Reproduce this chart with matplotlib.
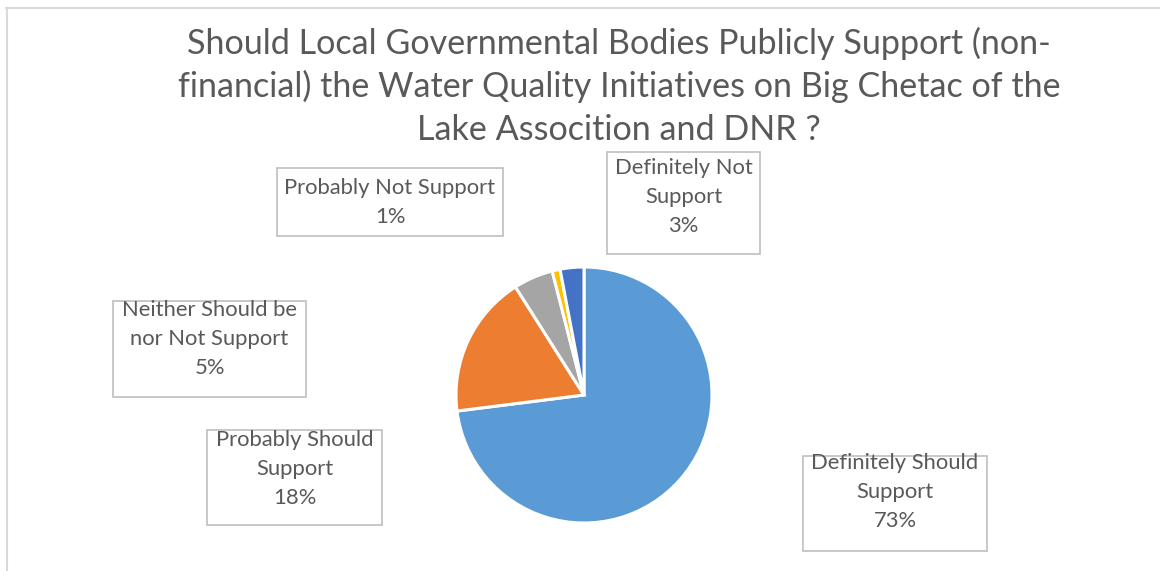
import matplotlib
matplotlib.use("Agg")
import matplotlib.pyplot as plt
from matplotlib.patches import Rectangle
from matplotlib.lines import Line2D

# Survey responses
categories = [
    "Definitely Should Support",
    "Probably Should Support",
    "Neither Should be nor Not Support",
    "Probably Not Support",
    "Definitely Not Support",
]
shares = [73, 18, 5, 1, 3]
label_lines = [
    ["Definitely Should", "Support"],
    ["Probably Should", "Support"],
    ["Neither Should be", "nor Not Support"],
    ["Probably Not Support"],
    ["Definitely Not", "Support"],
]
colors = ["#5B9BD5", "#ED7D31", "#A5A5A5", "#FFC000", "#4472C4"]

title_lines = [
    "Should Local Governmental Bodies Publicly Support (non-",
    "financial) the Water Quality Initiatives on Big Chetac of the",
    "Lake Assocition and DNR ?",
]

W, H = 1160, 571
fig = plt.figure(figsize=(W / 100, H / 100), dpi=100)
fig.patch.set_facecolor("white")
FONT = ["Lato", "DejaVu Sans"]
TXT = "#595959"


def fx(x):
    return x / W


def fy(y):
    return 1 - y / H


# chart frame (top and left edges)
fig.add_artist(Line2D([fx(6), fx(1160)], [fy(7.5), fy(7.5)], color="#D9D9D9", lw=1.5,
                      transform=fig.transFigure))
fig.add_artist(Line2D([fx(7), fx(7)], [fy(7.5), fy(571)], color="#D9D9D9", lw=1.5,
                      transform=fig.transFigure))

for i, line in enumerate(title_lines):
    fig.text(fx(619), fy(43 + i * 43.5), line, ha="center", va="center",
             fontsize=24.6, color=TXT, family=FONT)

# pie
cx, cy, r = 584, 395, 128
ax = fig.add_axes([fx(cx - r), fy(cy + r), 2 * r / W, 2 * r / H])
ax.pie(shares, colors=colors, startangle=90, counterclock=False,
       wedgeprops=dict(edgecolor="white", linewidth=2.2))
ax.set_xlim(-1, 1)
ax.set_ylim(-1, 1)
ax.set_aspect("auto")
ax.axis("off")

# data label boxes: (left, top, right, bottom, first text line y) in pixels
boxes = [
    (803, 456, 987, 551, 463),
    (207, 430, 382, 525, 440),
    (113, 301, 306, 397, 310),
    (277, 168, 503, 236, 188),
    (607, 152, 760, 254, 168),
]
for (l, t, rr, b, ty), lines, v in zip(boxes, label_lines, shares):
    fig.add_artist(Rectangle((fx(l), fy(b)), fx(rr) - fx(l), fy(t) - fy(b),
                             transform=fig.transFigure, facecolor="white",
                             edgecolor="#BFBFBF", lw=1.2))
    for k, s in enumerate(lines + [f"{v}%"]):
        fig.text(fx((l + rr) / 2), fy(ty + k * 29), s, ha="center", va="center",
                 fontsize=15.8, color=TXT, family=FONT)

fig.savefig("out.png", dpi=100)
